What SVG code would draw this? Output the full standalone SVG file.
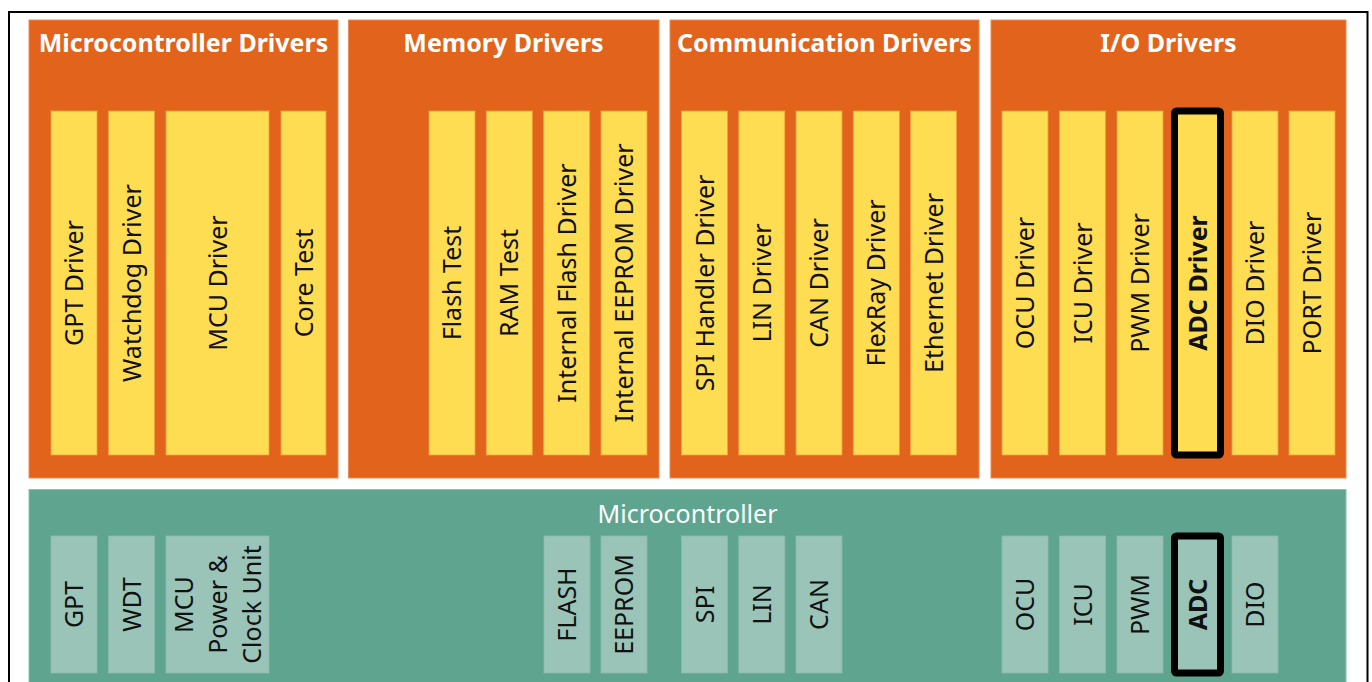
<svg xmlns="http://www.w3.org/2000/svg" width="1372" height="682" viewBox="0 0 1372 682">
<style>
.panel{fill:#E2631B;stroke:#EC8A55;stroke-width:1}
.ybar{fill:#FEDD52;stroke:#F3A13F;stroke-width:0.8}
.gpanel{fill:#5EA48F;stroke:#8CC0AF;stroke-width:1}
.gbar{fill:#9AC4B7;stroke:#8BBBAC;stroke-width:0.8}
.hl{fill:none;stroke:#000;stroke-width:7}
.title{font-family:"Noto Sans","Open Sans",sans-serif;font-weight:700;font-size:25px;fill:#fff;text-anchor:middle}
.lbl{font-family:"Noto Sans","Open Sans",sans-serif;font-size:25px;fill:#111;text-anchor:middle}
.b{font-weight:700}
.gtitle{font-family:"Noto Sans","Open Sans",sans-serif;font-size:25px;fill:#fff;text-anchor:middle}
</style>
<rect x="0" y="0" width="1372" height="682" fill="#fff"/>
<rect x="9" y="12" width="1358.5" height="700" fill="none" stroke="#000" stroke-width="2"/>

<g id="microcontroller-drivers">
<rect class="panel" x="29" y="20" width="309" height="458"/>
<text class="title" x="183.5" y="52">Microcontroller Drivers</text>
<rect class="ybar" x="51" y="111" width="46" height="344"/>
<text class="lbl" transform="translate(74,283) rotate(-90)" y="9">GPT Driver</text>
<rect class="ybar" x="108.5" y="111" width="46" height="344"/>
<text class="lbl" transform="translate(131.5,283) rotate(-90)" y="9">Watchdog Driver</text>
<rect class="ybar" x="166" y="111" width="103" height="344"/>
<text class="lbl" transform="translate(217.5,283) rotate(-90)" y="9">MCU Driver</text>
<rect class="ybar" x="281" y="111" width="45" height="344"/>
<text class="lbl" transform="translate(303.5,283) rotate(-90)" y="9">Core Test</text>
</g>

<g id="memory-drivers">
<rect class="panel" x="348.5" y="20" width="310.5" height="458"/>
<text class="title" x="503.5" y="52">Memory Drivers</text>
<rect class="ybar" x="429" y="111" width="46" height="344"/>
<text class="lbl" transform="translate(452,283) rotate(-90)" y="9">Flash Test</text>
<rect class="ybar" x="486.3" y="111" width="46" height="344"/>
<text class="lbl" transform="translate(509.3,283) rotate(-90)" y="9">RAM Test</text>
<rect class="ybar" x="543.7" y="111" width="46" height="344"/>
<text class="lbl" transform="translate(566.7,283) rotate(-90)" y="9">Internal Flash Driver</text>
<rect class="ybar" x="601" y="111" width="46" height="344"/>
<text class="lbl" transform="translate(624,283) rotate(-90)" y="9">Internal EEPROM Driver</text>
</g>

<g id="communication-drivers">
<rect class="panel" x="670" y="20" width="309" height="458"/>
<text class="title" x="824.5" y="52">Communication Drivers</text>
<rect class="ybar" x="681.5" y="111" width="46" height="344"/>
<text class="lbl" transform="translate(704.5,283) rotate(-90)" y="9">SPI Handler Driver</text>
<rect class="ybar" x="738.8" y="111" width="46" height="344"/>
<text class="lbl" transform="translate(761.8,283) rotate(-90)" y="9">LIN Driver</text>
<rect class="ybar" x="796" y="111" width="46" height="344"/>
<text class="lbl" transform="translate(819,283) rotate(-90)" y="9">CAN Driver</text>
<rect class="ybar" x="853.3" y="111" width="46" height="344"/>
<text class="lbl" transform="translate(876.3,283) rotate(-90)" y="9">FlexRay Driver</text>
<rect class="ybar" x="910.5" y="111" width="46" height="344"/>
<text class="lbl" transform="translate(933.5,283) rotate(-90)" y="9">Ethernet Driver</text>
</g>

<g id="io-drivers">
<rect class="panel" x="991" y="20" width="355" height="458"/>
<text class="title" x="1168.5" y="52">I/O Drivers</text>
<rect class="ybar" x="1002" y="111" width="46" height="344"/>
<text class="lbl" transform="translate(1025,283) rotate(-90)" y="9">OCU Driver</text>
<rect class="ybar" x="1059.5" y="111" width="46" height="344"/>
<text class="lbl" transform="translate(1082.5,283) rotate(-90)" y="9">ICU Driver</text>
<rect class="ybar" x="1117" y="111" width="46" height="344"/>
<text class="lbl" transform="translate(1140,283) rotate(-90)" y="9">PWM Driver</text>
<rect class="ybar" x="1175" y="111" width="46" height="344"/>
<rect class="hl" x="1174.5" y="111" width="46" height="344" rx="2"/>
<text class="lbl b" transform="translate(1198,283) rotate(-90)" y="9">ADC Driver</text>
<rect class="ybar" x="1232" y="111" width="46" height="344"/>
<text class="lbl" transform="translate(1255,283) rotate(-90)" y="9">DIO Driver</text>
<rect class="ybar" x="1289" y="111" width="46" height="344"/>
<text class="lbl" transform="translate(1312,283) rotate(-90)" y="9">PORT Driver</text>
</g>

<g id="microcontroller">
<rect class="gpanel" x="29" y="489.5" width="1317" height="240"/>
<text class="gtitle" x="687.5" y="523">Microcontroller</text>
<rect class="gbar" x="51" y="536" width="46" height="137"/>
<text class="lbl" transform="translate(74,604.5) rotate(-90)" y="9">GPT</text>
<rect class="gbar" x="108.5" y="536" width="46" height="137"/>
<text class="lbl" transform="translate(131.5,604.5) rotate(-90)" y="9">WDT</text>
<rect class="gbar" x="166" y="536" width="103" height="137"/>
<text class="lbl" transform="translate(217.5,604.5) rotate(-90)"><tspan x="0" y="-25">MCU</tspan><tspan x="0" y="9">Power &amp;</tspan><tspan x="0" y="43">Clock Unit</tspan></text>
<rect class="gbar" x="544" y="536" width="46" height="137"/>
<text class="lbl" transform="translate(567,604.5) rotate(-90)" y="9">FLASH</text>
<rect class="gbar" x="601" y="536" width="46" height="137"/>
<text class="lbl" transform="translate(624,604.5) rotate(-90)" y="9">EEPROM</text>
<rect class="gbar" x="681.5" y="536" width="46" height="137"/>
<text class="lbl" transform="translate(704.5,604.5) rotate(-90)" y="9">SPI</text>
<rect class="gbar" x="738.8" y="536" width="46" height="137"/>
<text class="lbl" transform="translate(761.8,604.5) rotate(-90)" y="9">LIN</text>
<rect class="gbar" x="796" y="536" width="46" height="137"/>
<text class="lbl" transform="translate(819,604.5) rotate(-90)" y="9">CAN</text>
<rect class="gbar" x="1002" y="536" width="46" height="137"/>
<text class="lbl" transform="translate(1025,604.5) rotate(-90)" y="9">OCU</text>
<rect class="gbar" x="1059.5" y="536" width="46" height="137"/>
<text class="lbl" transform="translate(1082.5,604.5) rotate(-90)" y="9">ICU</text>
<rect class="gbar" x="1117" y="536" width="46" height="137"/>
<text class="lbl" transform="translate(1140,604.5) rotate(-90)" y="9">PWM</text>
<rect class="gbar" x="1175" y="536" width="46" height="137"/>
<rect class="hl" x="1174.5" y="536" width="46" height="137" rx="2"/>
<text class="lbl b" transform="translate(1198,604.5) rotate(-90)" y="9">ADC</text>
<rect class="gbar" x="1232" y="536" width="46" height="137"/>
<text class="lbl" transform="translate(1255,604.5) rotate(-90)" y="9">DIO</text>
</g>
<g id="connectors"/>
</svg>
